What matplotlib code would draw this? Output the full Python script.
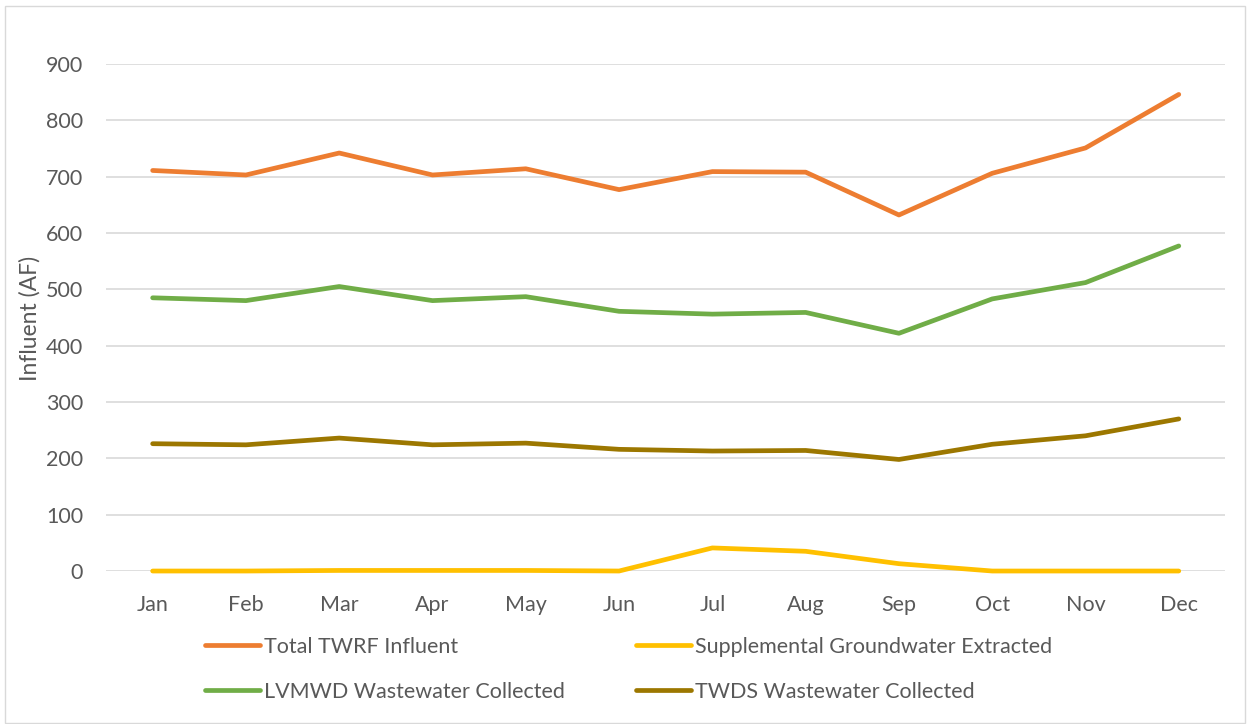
import matplotlib
matplotlib.use("Agg")
import matplotlib.pyplot as plt
from matplotlib.patches import Rectangle

months = ["Jan", "Feb", "Mar", "Apr", "May", "Jun",
          "Jul", "Aug", "Sep", "Oct", "Nov", "Dec"]
total_twrf = [711, 703, 742, 703, 714, 677, 709, 708, 632, 706, 751, 846]
groundwater = [0, 0, 1, 1, 1, 0, 41, 35, 13, 0, 0, 0]
lvmwd = [485, 480, 505, 480, 487, 461, 456, 459, 422, 483, 512, 577]
twds = [226, 224, 236, 224, 227, 216, 213, 214, 198, 225, 240, 270]

plt.rcParams["font.family"] = ["Lato", "DejaVu Sans"]
text_color = "#595959"
fs = 15.5

fig = plt.figure(figsize=(12.53, 7.24), dpi=100)
ax = fig.add_axes([0.0846, 0.2113, 0.8934, 0.7003])

x = range(len(months))
kw = dict(lw=3.4, solid_capstyle="round", clip_on=False)
l1, = ax.plot(x, total_twrf, color="#ED7D31", label="Total TWRF Influent", **kw)
l2, = ax.plot(x, groundwater, color="#FFC000", label="Supplemental Groundwater Extracted", **kw)
l3, = ax.plot(x, lvmwd, color="#70AD47", label="LVMWD Wastewater Collected", **kw)
l4, = ax.plot(x, twds, color="#9C7700", label="TWDS Wastewater Collected", **kw)

ax.set_xlim(-0.5, 11.5)
ax.set_ylim(0, 900)
ax.set_yticks(range(0, 901, 100))
ax.set_xticks(list(x))
ax.set_xticklabels(months)
ax.grid(axis="y", color="#D9D9D9", lw=1.2)
ax.set_axisbelow(True)
for s in ax.spines.values():
    s.set_visible(False)
ax.tick_params(length=0, labelsize=fs, colors=text_color)
ax.tick_params(axis="x", pad=17.5)
ax.tick_params(axis="y", pad=16.5)
fig.text(30 / 1253, 1 - 318 / 724, "Influent (AF)", rotation=90, ha="center", va="center",
         fontsize=fs + 1, color=text_color)

handles = [l1, l3, l2, l4]
leg = fig.legend(handles=handles, labels=[h.get_label() for h in handles],
                 loc="upper left", bbox_to_anchor=(205 / 1253, 1 - 637 / 724),
                 ncol=2, frameon=False, borderpad=0, borderaxespad=0,
                 fontsize=fs, labelcolor=text_color, handlelength=2.55,
                 handletextpad=0.2, columnspacing=3.3, labelspacing=1.15)

fig.patches.append(Rectangle((0.004, 0.002), 0.99, 0.99, transform=fig.transFigure,
                             fill=False, edgecolor="#D9D9D9", lw=1))

plt.savefig("out.png", dpi=100)
plt.close()
